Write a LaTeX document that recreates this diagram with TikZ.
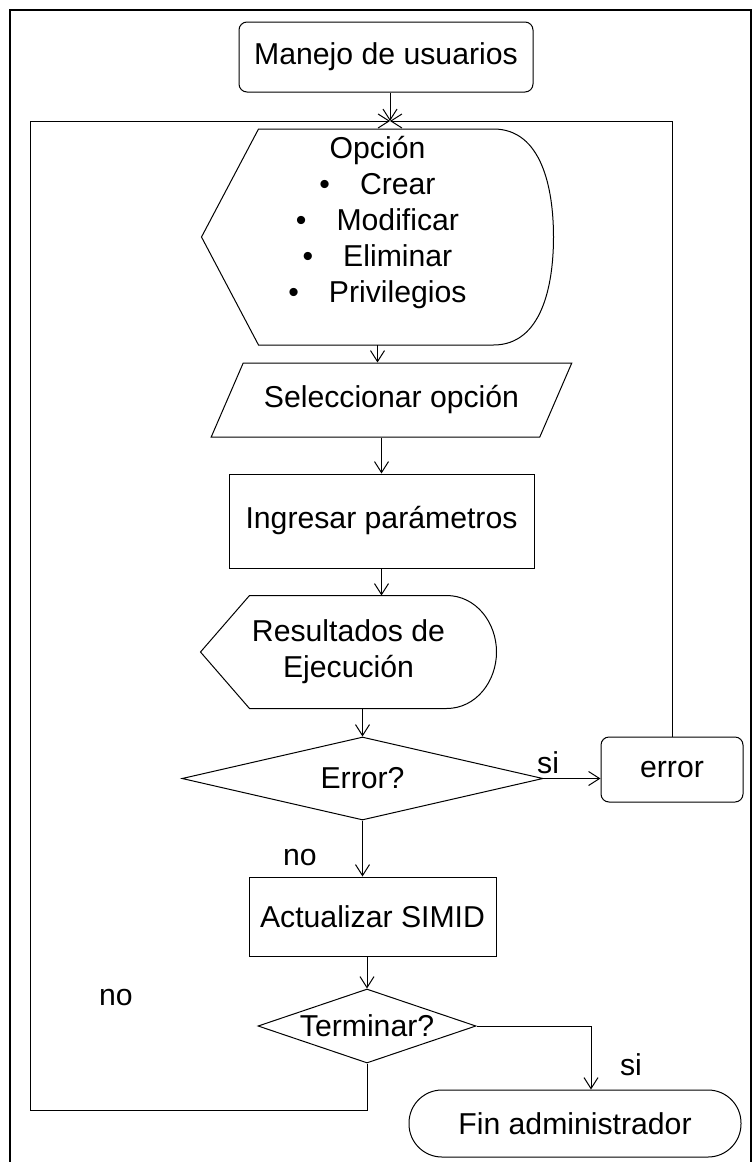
\documentclass[tikz,border=0pt]{standalone}
\usepackage{fontspec}
\setmainfont{Liberation Sans}
\usetikzlibrary{shapes.geometric, arrows.meta, positioning, calc}

\newcommand{\optitem}[1]{\textbullet\hspace{30pt}#1}
% outline of a display symbol round an (invisible) node
\newcommand{\displayline}[3]{%
  \draw[line width=1pt] (#1.west) -- ($(#1.north west)+(#2,0)$) -- ($(#1.north east)-(#3,0)$)
    to[out=0,in=90] (#1.east) to[out=-90,in=0] ($(#1.south east)-(#3,0)$)
    -- ($(#1.south west)+(#2,0)$) -- cycle;}

\tikzset{
  base/.style={draw, line width=1pt, align=center, inner sep=0pt, font=\fontsize{30.2}{36}\selectfont},
  procbox/.style={base, rectangle},
  roundbox/.style={base, rectangle, rounded corners=8pt},
  terminal/.style={base, rectangle, rounded corners=33pt},
  decision/.style={base, diamond},
  inout/.style={base, trapezium, trapezium left angle=46, trapezium right angle=134, trapezium stretches=true},
  display/.style={base, rectangle, draw=none},
  lbl/.style={inner sep=0pt, font=\fontsize{30.2}{36}\selectfont},
  arr/.style={-{Straight Barb[length=11pt,width=14pt]}, line width=1pt}
}

\begin{document}
\begin{tikzpicture}[x=1pt, y=-1pt]
\useasboundingbox (0,0) rectangle (755,1162);
% frame
\draw[line width=2.5pt] (10,1162) -- (10,10) -- (751,10) -- (751,1162);

% Main column
\node[roundbox, minimum width=294, minimum height=70] (manejo) at (386,57) {Manejo de usuarios};

\node[display, minimum width=351, minimum height=215] (opcion) at (377.5,237)
  {Opción\\ \optitem{Crear}\\ \optitem{Modificar}\\ \optitem{Eliminar}\\ \optitem{Privilegios}\\ \mbox{}};
\displayline{opcion}{57}{60}

\node[inout, minimum width=361, minimum height=74] (selec) at (391.5,400) {Seleccionar opción};

\node[procbox, minimum width=305, minimum height=94] (ingresar) at (381.5,521) {Ingresar parámetros};

\node[display, minimum width=295, minimum height=112] (result) at (348.5,652) {Resultados de\\ Ejecución};
\displayline{result}{49}{50}

\node[decision, aspect=4.35, minimum width=361, minimum height=83] (errdec) at (362.5,778.5) {Error?};

\node[roundbox, minimum width=142, minimum height=65] (errbox) at (672,769.5) {error};

\node[procbox, minimum width=247, minimum height=79] (actual) at (372.5,916.5) {Actualizar SIMID};

\node[decision, aspect=2.95, minimum width=218, minimum height=74] (terminar) at (367,1026) {Terminar?};

\node[terminal, minimum width=332, minimum height=67] (fin) at (575,1123.5) {Fin administrador};

% Labels
\node[lbl, anchor=west] (si1) at (537,763) {si};
\node[lbl] (no1) at (300,858) {no};
\node[lbl] (no2) at (116,998) {no};
\node[lbl] (si2) at (631,1065) {si};

% Connectors
\coordinate (join) at (390,121);
\coordinate (loopbl) at (30,1110);
\draw[arr] (manejo.south -| join) -- (join);
\draw[arr] (opcion.south) -- (opcion.south |- selec.north);
\draw[arr] (selec.south -| ingresar) -- (ingresar.north);
\draw[arr] (ingresar.south) -- (ingresar.south |- result.north);
\draw[arr] (errdec.north |- result.south) -- (errdec.north);
\draw[arr] (errdec.east) -- (errdec.east -| errbox.west);
\draw[arr] (errdec.south) -- (errdec.south |- actual.north);
\draw[arr] (terminar.north |- actual.south) -- (terminar.north);
\draw[arr] (terminar.east) -| ([xshift=16pt]fin.north);
\draw[arr] (errbox.north) |- (join);
\draw[arr] (terminar.south) |- (loopbl) |- (join);
\end{tikzpicture}
\end{document}
